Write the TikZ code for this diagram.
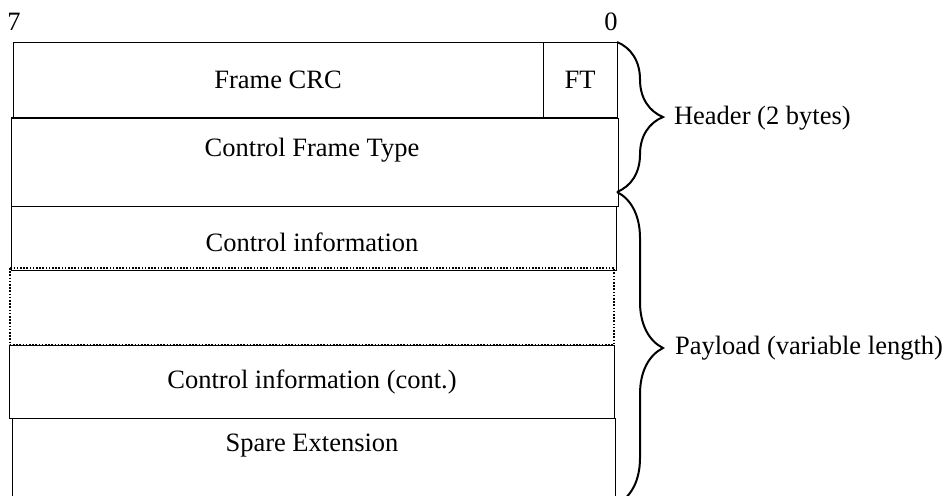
\documentclass[tikz,border=0pt]{standalone}
\usepackage{fontspec}
\setmainfont{Liberation Serif}
\usetikzlibrary{decorations.pathreplacing}

\begin{document}
\begin{tikzpicture}[x=0.5pt,y=-0.5pt,font=\fontsize{13.25}{16}\selectfont,
  field/.style={line width=0.5pt},
  gap/.style={line width=0.8pt,dash pattern=on 0.8pt off 0.8pt},
  hbrace/.style={decorate,decoration={brace,amplitude=23pt},line width=1pt}]
\useasboundingbox (0,0) rectangle (942,495);

% Bit numbers
\node (msb) at (14,22) {7};
\node (lsb) at (611,22) {0};

% Header
\draw[field] (13,42) rectangle (617,118);
\draw[field] (543,42) -- (543,118);
\node (crc) at (278,80) {Frame CRC};
\node (ft) at (580,80) {FT};
\draw[field] (11,118) rectangle (618,206);
\draw[line width=1.3pt] (11,118) -- (618,118);
\node (cft) at (312,150) {Control Frame Type};

% Payload
\draw[field] (11,206) rectangle (616,270);
\node (ci) at (312,242) {Control information};
\draw[gap] (10,268) rectangle (614,345);
\draw[field] (9,345) rectangle (614,418);
\node (cic) at (312,382) {Control information (cont.)};
\draw[field] (12,505) -- (12,418) -- (615,418) -- (615,505);
\node (spare) at (312,446) {Spare Extension};

% Braces
\coordinate (h1) at (617,42);
\coordinate (h2) at (617,192);
\coordinate (p1) at (617,192);
\coordinate (p2) at (617,504);
\draw[hbrace] (h1) -- (h2);
\draw[hbrace] (p1) -- (p2);
\node[anchor=west] (hdr) at (667,118) {Header (2 bytes)};
\node[anchor=west] (pay) at (668,348) {Payload (variable length)};
\end{tikzpicture}
\end{document}
